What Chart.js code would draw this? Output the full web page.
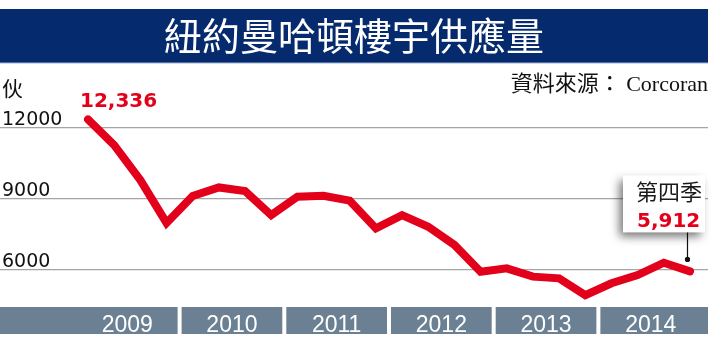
<!DOCTYPE html>
<html>
<head>
<meta charset="utf-8">
<script src="https://cdn.jsdelivr.net/npm/chart.js@4.4.1/dist/chart.umd.min.js"></script>
<style>
  html, body { margin: 0; padding: 0; background: #fff; }
  #wrap { width: 718px; height: 339px; }
</style>
</head>
<body>
<div id="wrap"><canvas id="grafico"></canvas></div>
<script>
// 季度供應量（伙），2009 Q1 - 2014 Q4
const years = ["2009", "2010", "2011", "2012", "2013", "2014"];
const supply = [
  12336, 11250, 9770, 7960,
  9100, 9460, 9310, 8290,
  9070, 9110, 8900, 7730,
  8290, 7800, 7030, 5900,
  6040, 5690, 5620, 4910,
  5410, 5760, 6280, 5912,
];
const yTicks = [6000, 9000, 12000];
const firstLabel = "12,336";
const lastTitle = "第四季";
const lastLabel = "5,912";

const RED = "#e3001b";
const NAVY = "#062a6e";
const BAND = "#6b8092";

const points = supply.map((v, i) => ({ x: i, y: v }));

// 標題底色 + 年份底條
const background = {
  id: "background",
  beforeDraw(chart) {
    const { ctx, chartArea, scales } = chart;
    ctx.save();
    ctx.fillStyle = NAVY;
    ctx.fillRect(0, 9, chartArea.right, 54);
    ctx.fillStyle = "#9fb3d6";
    ctx.fillRect(0, 62.5, chartArea.right, 1);

    const top = chartArea.bottom + 1;
    ctx.fillStyle = BAND;
    ctx.fillRect(0, top, chartArea.right, 27);
    ctx.fillStyle = "#fff";
    for (let k = 0; k < years.length - 1; k++) {
      const x = scales.x.getPixelForValue(3.5 + k * 4);
      ctx.fillRect(x - 2, top, 4, 27);
    }
    ctx.restore();
  },
};

// 單位、起點及末點標示
const notes = {
  id: "notes",
  afterDatasetsDraw(chart) {
    const { ctx } = chart;
    const pts = chart.getDatasetMeta(0).data;
    const p0 = pts[0];
    const pn = pts[pts.length - 1];
    ctx.save();
    ctx.textBaseline = "middle";
    ctx.textAlign = "left";

    ctx.fillStyle = "#111";
    ctx.font = "21px 'Noto Sans CJK TC'";
    ctx.fillText("伙", 2, 88);

    ctx.fillStyle = RED;
    ctx.font = "bold 20px 'DejaVu Sans'";
    ctx.fillText(firstLabel, p0.x - 8, p0.y - 18);

    // 引線
    ctx.strokeStyle = "#111";
    ctx.lineWidth = 1.2;
    ctx.beginPath();
    ctx.moveTo(pn.x - 2.5, pn.y - 40);
    ctx.lineTo(pn.x - 2.5, pn.y - 12);
    ctx.stroke();
    ctx.fillStyle = "#111";
    ctx.beginPath();
    ctx.arc(pn.x - 2.5, pn.y - 12, 2.6, 0, Math.PI * 2);
    ctx.fill();

    // 白色框
    ctx.save();
    ctx.shadowColor = "rgba(0,0,0,0.55)";
    ctx.shadowBlur = 9;
    ctx.shadowOffsetX = -4;
    ctx.shadowOffsetY = 5;
    ctx.fillStyle = "#fff";
    ctx.fillRect(pn.x - 67, pn.y - 96, 82, 57);
    ctx.restore();

    ctx.fillStyle = "#1a1a1a";
    ctx.font = "22px 'Noto Sans CJK TC'";
    ctx.fillText(lastTitle, pn.x - 54, pn.y - 80);
    ctx.fillStyle = RED;
    ctx.font = "bold 20px 'DejaVu Sans'";
    ctx.fillText(lastLabel, pn.x - 53, pn.y - 50);
    ctx.restore();
  },
};

new Chart(document.getElementById("grafico"), {
  type: "line",
  data: {
    datasets: [
      {
        data: points,
        borderColor: RED,
        borderWidth: 8,
        borderCapStyle: "round",
        borderJoinStyle: "miter",
        pointRadius: 0,
        tension: 0,
      },
    ],
  },
  options: {
    responsive: true,
    maintainAspectRatio: false,
    animation: false,
    layout: { padding: { left: 0, right: 10, top: 0, bottom: 0 } },
    plugins: {
      legend: { display: false },
      tooltip: { enabled: false },
      title: {
        display: true,
        text: "紐約曼哈頓樓宇供應量",
        color: "#fff",
        font: { family: "'Noto Sans CJK TC'", size: 38, weight: "normal", lineHeight: 1.2 },
        padding: { top: 12.7, bottom: 6 },
      },
      subtitle: {
        display: true,
        text: "資料來源： Corcoran",
        align: "end",
        color: "#111",
        font: { family: "'Liberation Serif', 'Noto Sans CJK TC', serif", size: 22, lineHeight: 1.2 },
        padding: { top: 7.3, bottom: 0 },
      },
    },
    scales: {
      x: {
        type: "linear",
        min: -3.362,
        max: 23.688,
        grid: { display: false },
        border: { display: false },
        afterBuildTicks(s) {
          s.ticks = years.map((y, i) => ({ value: 1.5 + i * 4 }));
        },
        afterFit(s) {
          s.height = 33;
        },
        ticks: {
          autoSkip: false,
          maxRotation: 0,
          padding: -2,
          color: "#fff",
          font: { family: "'Liberation Sans', Arial", size: 23 },
          callback: (v) => years[Math.round((v - 1.5) / 4)],
        },
      },
      y: {
        min: 4450,
        max: 13239,
        border: { display: false },
        grid: { color: "#a5a5a5", lineWidth: 1.2, drawTicks: false },
        afterBuildTicks(s) {
          s.ticks = yTicks.map((v) => ({ value: v }));
        },
        afterFit(s) {
          s.width = 0;
        },
        ticks: {
          mirror: true,
          padding: 2,
          labelOffset: -7,
          color: "#111",
          font: { family: "'DejaVu Sans'", size: 19 },
          callback: (v) => String(v),
        },
      },
    },
  },
  plugins: [background, notes],
});
</script>
</body>
</html>
